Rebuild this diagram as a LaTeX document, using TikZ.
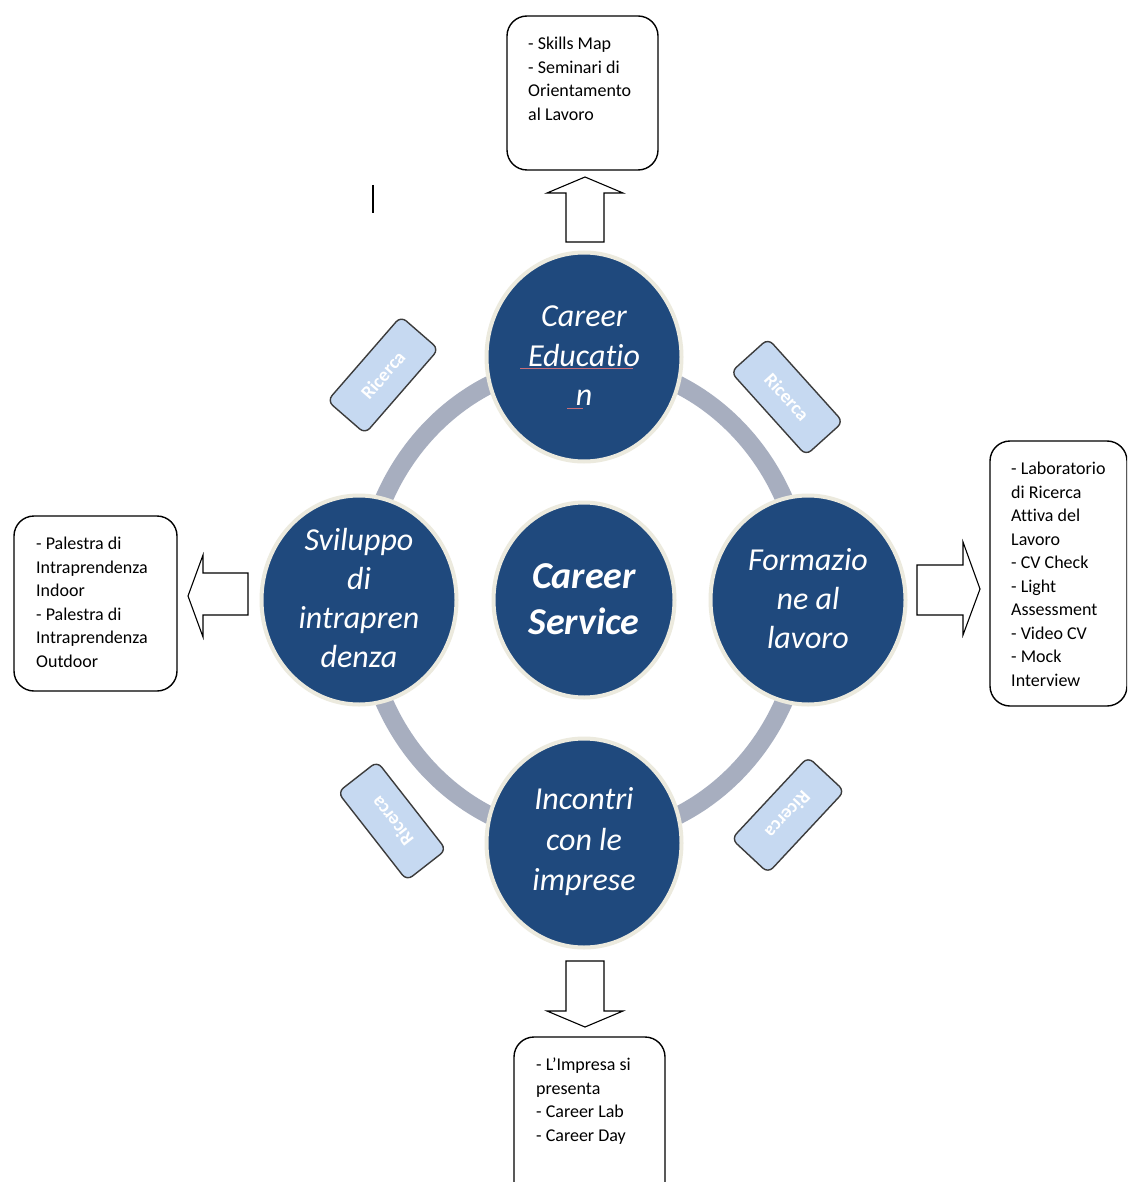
\documentclass[tikz,border=0pt]{standalone}
\usepackage{fontspec}
\setmainfont{Carlito}[Ligatures=NoCommon]
\usetikzlibrary{shapes.geometric}
\definecolor{cblue}{RGB}{31,73,125}
\definecolor{cring}{RGB}{167,174,191}
\definecolor{cedge}{RGB}{236,234,222}
\definecolor{rfill}{RGB}{198,217,241}
\definecolor{rline}{RGB}{60,60,60}
\definecolor{spellred}{RGB}{200,110,120}
\begin{document}
\begin{tikzpicture}[x=1pt,y=-1pt,
  hub/.style={ellipse, fill=cblue, draw=cedge, line width=4pt, inner sep=0pt,
              minimum width=195pt, minimum height=209pt},
  hubtext/.style={text=white, align=center, inner sep=0pt,
              font=\fontsize{32}{39.5}\selectfont\itshape},
  ricerca/.style={rectangle, fill=rfill, draw=rline, line width=1.4pt, rounded corners=7pt,
              minimum width=112pt, minimum height=50pt, text=white, inner sep=0pt,
              font=\fontsize{19}{22}\selectfont\bfseries},
  infobox/.style={rectangle, draw=black, line width=1.4pt, rounded corners=20pt, fill=white, inner sep=0pt},
  infotext/.style={anchor=north west, align=left, inner sep=0pt,
              font=\fontsize{18}{23.5}\selectfont},
  blockarrow/.style={draw=black, fill=white, line width=1.1pt, line join=miter}]
\useasboundingbox (0,0) rectangle (1127,1182);
\fill[white] (0,0) rectangle (1127,1182);
\clip (0,0) rectangle (1127,1182);

% ring
\draw[cring, line width=18pt] (584,600) ellipse [x radius=221pt, y radius=238pt];

% hubs
\node[hub] (top) at (584,357) {};
\node[hub, minimum width=181pt, minimum height=195pt] (mid) at (584,600) {};
\node[hub] (left) at (359,600) {};
\node[hub] (right) at (808,600) {};
\node[hub] (bottom) at (584,843) {};

\node[hubtext] (toptext) at (584,356) {Career\\Educatio\\n};
\draw[spellred, line width=0.5pt] (520,368) -- (633,368);
\draw[spellred, line width=0.5pt] (567,408) -- (583,408);
\node[hubtext, font=\fontsize{38}{46}\selectfont\bfseries\itshape] (midtext) at (584,599) {Career\\Service};
\node[hubtext, font=\fontsize{32}{38.7}\selectfont\itshape] (lefttext) at (359,598) {Sviluppo\\di\\intrapren\\denza};
\node[hubtext, font=\fontsize{32}{39}\selectfont\itshape] (righttext) at (808,599) {Formazio\\ne al\\lavoro};
\node[hubtext, font=\fontsize{32}{40.5}\selectfont\itshape] (bottomtext) at (584,842) {Incontri\\con le\\imprese};

% Ricerca boxes
\node[ricerca, rotate=49] (r1) at (383,375) {Ricerca};
\node[ricerca, rotate=-48] (r2) at (787,397) {Ricerca};
\node[ricerca, rotate=128] (r3) at (392,821) {Ricerca};
\node[ricerca, rotate=-133] (r4) at (788,815) {Ricerca};

% block arrows
\draw[blockarrow] (566,242) -- (566,193) -- (547,193) -- (585,177) -- (623,193) -- (604,193) -- (604,242) -- cycle;
\draw[blockarrow] (566,961) -- (604,961) -- (604,1011) -- (623,1011) -- (585,1027) -- (547,1011) -- (566,1011) -- cycle;
\draw[blockarrow] (248,573) -- (203,573) -- (203,555) -- (188,596) -- (203,637) -- (203,615) -- (248,615) -- cycle;
\draw[blockarrow] (917,565) -- (963,565) -- (963,542) -- (980,589) -- (963,635) -- (963,615) -- (917,615) -- cycle;

% info boxes
\node[infobox, minimum width=151pt, minimum height=154pt] (topbox) at (582.5,93) {};
\node[infotext] (toptxt) at (528,37) {- Skills Map\\- Seminari di\\Orientamento\\al Lavoro};

\node[infobox, minimum width=137pt, minimum height=265pt] (rightbox) at (1058.5,573.5) {};
\node[infotext] (righttxt) at (1011,462) {- Laboratorio\\di Ricerca\\Attiva del\\Lavoro\\- CV Check\\- Light\\Assessment\\- Video CV\\- Mock\\Interview};

\node[infobox, minimum width=163pt, minimum height=175pt] (leftbox) at (95.5,603.5) {};
\node[infotext] (lefttxt) at (36,537) {- Palestra di\\Intraprendenza\\Indoor\\- Palestra di\\Intraprendenza\\Outdoor};

\node[infobox, minimum width=151pt, minimum height=170pt] (bottombox) at (589.5,1122) {};
\node[infotext] (bottomtxt) at (536,1058) {- L’Impresa si\\presenta\\- Career Lab\\- Career Day};

% stray cursor mark
\draw[black, line width=1.6pt] (373,185) -- (373,213);
\end{tikzpicture}
\end{document}
